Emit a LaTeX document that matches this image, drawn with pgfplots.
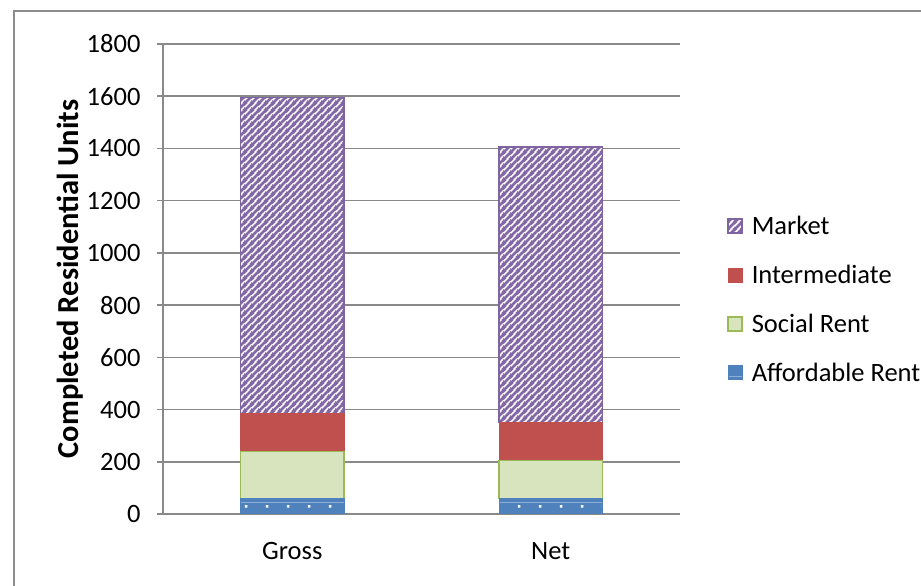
\documentclass[border=0pt]{standalone}
\usepackage{fontspec}
\setmainfont{Carlito}
\usepackage{pgfplots}
\pgfplotsset{compat=1.18}
\usetikzlibrary{patterns}

\definecolor{mkt}{HTML}{8064A2}
\definecolor{mktline}{HTML}{8468A5}
\definecolor{intm}{HTML}{C0504D}
\definecolor{socfill}{HTML}{D7E4BD}
\definecolor{socline}{HTML}{9BBB59}
\definecolor{aff}{HTML}{4F81BD}
\definecolor{gridc}{HTML}{898989}
\definecolor{framec}{HTML}{8C8C8C}

% purple diagonal stripes on white, 7pt tile, seamless at the corners
\pgfdeclarepatterninherentlycolored{mktstripes}{\pgfpointorigin}{\pgfqpoint{7pt}{7pt}}{\pgfqpoint{7pt}{7pt}}{
  \pgfsetfillcolor{white}
  \pgfpathrectangle{\pgfpointorigin}{\pgfqpoint{7pt}{7pt}}
  \pgfusepath{fill}
  \pgfsetstrokecolor{mktline}
  \pgfsetlinewidth{2.9pt}
  \pgfpathmoveto{\pgfqpoint{-2pt}{-2pt}}\pgfpathlineto{\pgfqpoint{9pt}{9pt}}
  \pgfpathmoveto{\pgfqpoint{-9pt}{-2pt}}\pgfpathlineto{\pgfqpoint{2pt}{9pt}}
  \pgfpathmoveto{\pgfqpoint{5pt}{-2pt}}\pgfpathlineto{\pgfqpoint{16pt}{9pt}}
  \pgfusepath{stroke}
}
% blue with sparse white square dots
\pgfdeclarepatterninherentlycolored{affdots}{\pgfpointorigin}{\pgfqpoint{21pt}{21pt}}{\pgfqpoint{21pt}{21pt}}{
  \pgfsetfillcolor{aff}
  \pgfpathrectangle{\pgfpointorigin}{\pgfqpoint{21pt}{21pt}}
  \pgfusepath{fill}
  \pgfsetfillcolor{white}
  \pgfpathrectangle{\pgfqpoint{14.5pt}{15.8pt}}{\pgfqpoint{2.6pt}{2.6pt}}
  \pgfusepath{fill}
}

\newcommand{\chartfont}{\fontsize{26.5}{31}\selectfont}

\begin{document}
\begin{tikzpicture}
\useasboundingbox (0,0) rectangle (921pt,586pt);
% chart area frame (runs off the right and bottom edges)
\draw[framec, line width=1.5pt] (14pt,-20pt) -- (14pt,575pt) -- (960pt,575pt);
\begin{axis}[
  at={(163pt,72pt)}, anchor=south west,
  scale only axis, width=517pt, height=470pt,
  xmin=0.5, xmax=2.5, ymin=0, ymax=1800,
  ybar stacked, bar width=0.4,
  axis x line*=bottom, axis y line*=left,
  axis line style={gridc, line width=1.5pt},
  xtick={1,2}, xticklabels={Gross,Net},
  major x tick style={draw=none},
  extra x ticks={0.5,1.5,2.5}, extra x tick labels={},
  extra x tick style={major tick length=8pt, tick style={gridc, line width=1.5pt}},
  ytick distance=200,
  major y tick style={gridc, line width=1.5pt},
  major tick length=6pt,
  tick align=outside,
  ymajorgrids, grid style={gridc, line width=1.5pt},
  scaled y ticks=false,
  /pgf/number format/1000 sep={},
  /pgf/number format/assume math mode=true,
  tick label style={font=\chartfont, text=black},
  yticklabel style={xshift=-13pt},
  xticklabel style={yshift=-19pt},
  ylabel={\bfseries Completed Residential Units},
  every axis y label/.style={at={([xshift=-93pt]rel axis cs:0,0.5)}, rotate=90, anchor=center,
    font=\fontsize{30.5}{36}\selectfont},
  reverse legend,
  legend cell align=left,
  legend image code/.code={\draw[#1] (0pt,-7pt) rectangle (14pt,7pt);},
  legend style={draw=none, fill=none, font=\chartfont,
    at={(rel axis cs:1.091,0.634)}, anchor=north west,
    row sep=29pt, inner sep=0pt,
    nodes={inner sep=0pt},
    /tikz/every odd column/.append style={column sep=9pt}},
]
\addplot[pattern=affdots, draw=aff, line width=0.8pt]
  coordinates {(1,60) (2,60)};
\addlegendentry{Affordable Rent}
\addplot[fill=socfill, draw=socline, line width=1.5pt]
  coordinates {(1,180) (2,145)};
\addlegendentry{Social Rent}
\addplot[fill=intm, draw=intm, line width=0.8pt]
  coordinates {(1,145) (2,145)};
\addlegendentry{Intermediate}
\addplot[pattern=mktstripes, draw=mkt, line width=1.5pt]
  coordinates {(1,1210) (2,1055)};
\addlegendentry{Market}
\end{axis}
\end{tikzpicture}
\end{document}
